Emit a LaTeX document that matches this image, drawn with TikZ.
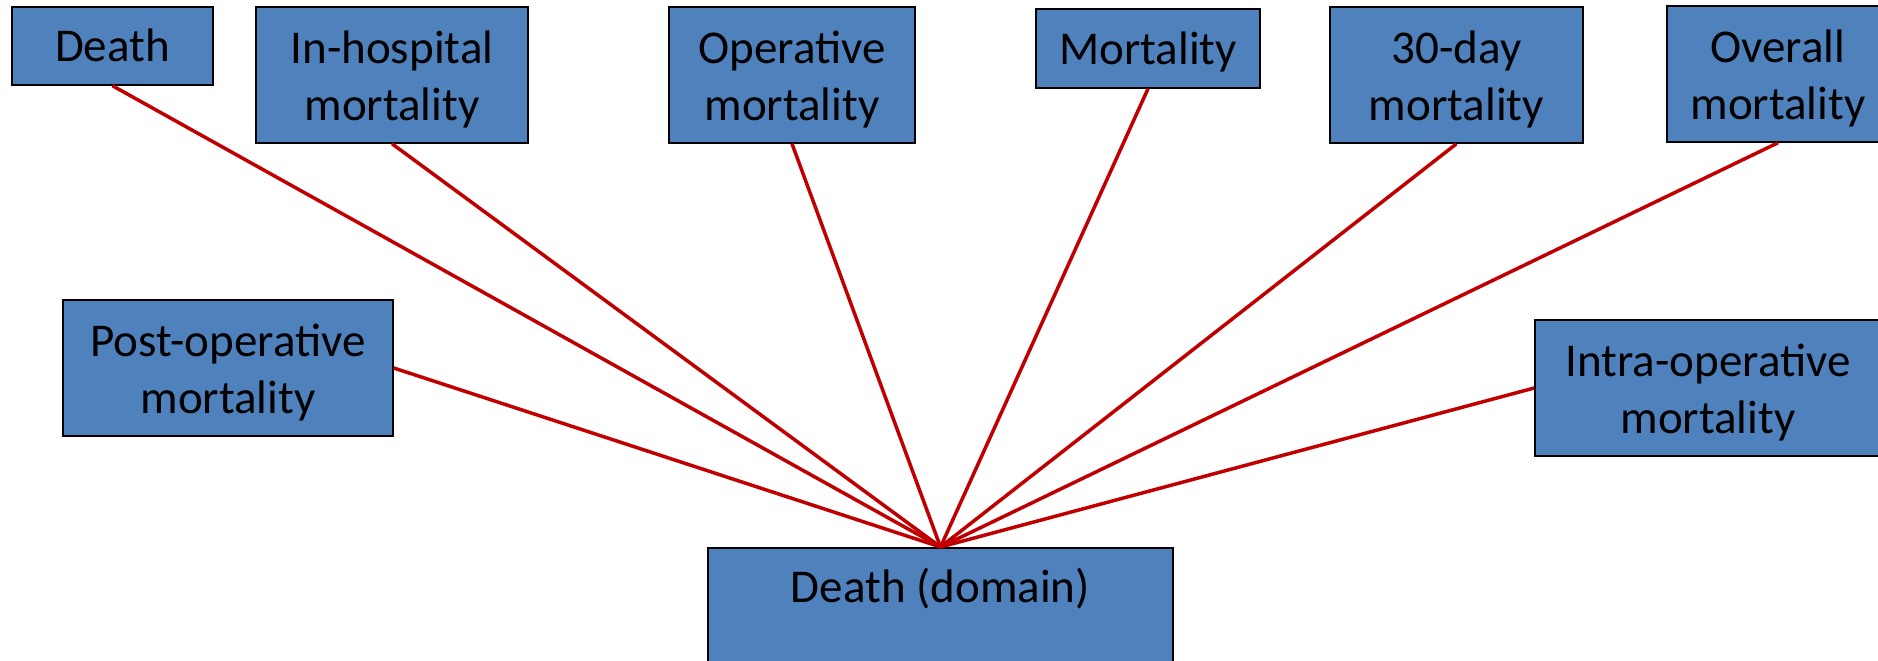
\documentclass[tikz,border=0pt]{standalone}
\usepackage{fontspec}
\setmainfont{Carlito}
\definecolor{boxblue}{HTML}{4F81BD}
\definecolor{linkred}{HTML}{C00000}
\begin{document}
\begin{tikzpicture}[x=1bp,y=-1bp,
  box/.style={draw=black, line width=1.5bp, fill=boxblue, inner sep=0pt,
    align=center, font=\fontsize{47.2}{57.2}\selectfont},
  oneline/.style={box, text height=32bp, text depth=0bp},
  % for two lines the box baseline is the last line
  twoline/.style={box, text height=100bp, text depth=10bp},
  link/.style={draw=linkred, line width=3.5bp}]
\clip (0,0) rectangle (1878,661);
% top row of terms
\node[oneline, minimum width=201bp, minimum height=78bp]  (death)   at (112.5,46)  {Death};
\node[twoline, minimum width=272bp, minimum height=136bp] (inhosp)  at (392,75)    {In-hospital\\mortality};
\node[twoline, minimum width=246bp, minimum height=136bp] (oper)    at (792,75)    {Operative\\mortality};
\node[oneline, minimum width=224bp, minimum height=79bp]  (mort)    at (1148,48.5) {Mortality};
\node[twoline, minimum width=253bp, minimum height=136bp] (thirty)  at (1456.5,75) {30-day\\mortality};
\node[twoline, minimum width=222bp, minimum height=136bp] (overall) at (1778,74)   {Overall\\mortality};
% side terms
\node[twoline, minimum width=330bp, minimum height=136bp] (post)    at (228,368)   {Post-operative\\mortality};
\node[twoline, minimum width=346bp, minimum height=136bp] (intra)   at (1708,388)  {Intra-operative\\mortality};
% domain box
\node[box, text height=55bp, text depth=150bp, minimum width=465bp, anchor=north]
  (domain) at (940.5,547) {Death (domain)};
% links to the domain
\foreach \n in {death,inhosp,oper,mort,thirty,overall}
  \draw[link] (\n.south) -- (domain.north);
\draw[link] (post.east) -- (domain.north);
\draw[link] (intra.west) -- (domain.north);
\end{tikzpicture}
\end{document}
